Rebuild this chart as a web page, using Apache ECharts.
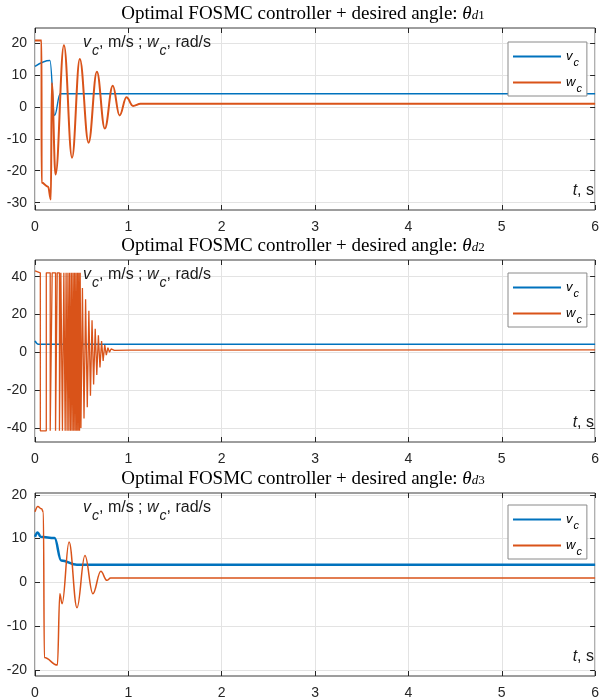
<!DOCTYPE html>
<html><head><meta charset="utf-8">
<script src="https://cdn.jsdelivr.net/npm/echarts@6/dist/echarts.min.js"></script>
<style>html,body{margin:0;padding:0;background:#fff}#c{width:602px;height:700px}</style>
</head><body><div id="c"></div>
<script>
// ---------- data ----------
const xTicks = [0, 1, 2, 3, 4, 5, 6];
const y1Ticks = [-30, -20, -10, 0, 10, 20];
const y2Ticks = [-40, -20, 0, 20, 40];
const y3Ticks = [-20, -10, 0, 10, 20];

// panel 1 (theta_d1)
const p1_vt = [0, 0.16, 0.21, 0.27, 6];
const p1_v  = [12.7, 14.5, -2.7, 4.1, 4.1];
const p1_wt = [0, 0.07, 0.0705, 0.14, 0.17, 0.18, 0.22, 0.31, 0.397, 0.48, 0.574, 0.663, 0.748, 0.833, 0.906, 0.98, 1.05, 1.13, 6];
const p1_w  = [20.8, 20.8, -23.7, -25, -29, 7.5, -21.2, 19.3, -15.9, 15, -11.2, 11, -6.8, 6.6, -2.7, 3, 0.3, 0.95, 0.95];

// panel 2 (theta_d2)
const p2_vt = [0, 0.035, 6];
const p2_v  = [6.1, 4.3, 4.3];
const p2_wt = [0,
  0.057,0.057, 0.121,0.121, 0.163,0.163, 0.184,0.184, 0.220,0.220, 0.238,0.238,
  0.262,0.262, 0.277,0.277, 0.294,0.294, 0.309,0.309, 0.323,0.323, 0.333,0.333,
  0.344,0.344, 0.353,0.353, 0.363,0.363, 0.371,0.371, 0.381,0.381, 0.389,0.389,
  0.398,0.398, 0.406,0.406, 0.415,0.415, 0.422,0.422, 0.431,0.431, 0.438,0.438,
  0.447,0.447, 0.454,0.454, 0.462,0.462, 0.469,0.469, 0.477,0.477, 0.484,0.484,
  0.492, 0.508, 0.525, 0.542, 0.560, 0.577, 0.594, 0.611, 0.628, 0.645, 0.662,
  0.679, 0.696, 0.713, 0.730, 0.747, 0.764, 0.781, 0.798, 0.815, 0.85, 1.0, 6];
const p2_w = [43,
  42,-41.5, -41.5,42, 42,-41.5, -41.5,42, 42,-41.5, -41.5,42,
  42,-41.5, -41.5,42, 42,-41.5, -41.5,42, 42,-41.5, -41.5,42,
  42,-41.5, -41.5,42, 42,-41.5, -41.5,42, 42,-41.5, -41.5,42,
  42,-41.5, -41.5,42, 42,-41.5, -41.5,42, 42,-41.5, -41.5,42,
  42,-41.5, -41.5,42, 42,-41.5, -41.5,42, 42,-41.5, -41.5,42,
  -40, 34, -35, 28, -29, 22, -23, 17, -17, 12.5, -12,
  9, -8, 6, -4.5, 4, -1.5, 2.5, 0, 1.8, 1.0, 1.2, 1.3];

// panel 3 (theta_d3)
const p3_vt = [0, 0.028, 0.06, 0.21, 0.28, 0.45, 6];
const p3_v  = [10.4, 11.4, 10.4, 10.1, 5.0, 4.0, 4.0];
const p3_wt = [0, 0.03, 0.07, 0.09, 0.1, 0.24, 0.266, 0.29, 0.365, 0.45, 0.535, 0.62, 0.705, 0.77, 0.81, 6];
const p3_w  = [16.1, 17.3, 16.8, 16, -17.2, -18.9, -2.6, -4.9, 9.2, -5.8, 6.1, -2.6, 2.5, 0.45, 1.0, 1.0];

const titles = ['1', '2', '3'];

// ---------- helpers ----------
const zip = (a, b) => a.slice(0, Math.min(a.length, b.length)).map((x, i) => [x, b[i]]);
const BLUE = '#0072BD', ORANGE = '#D95319';
const SANS = 'Liberation Sans', SERIF = 'Liberation Serif';
const AXC = '#262626';

const grids = [
  {left: 35, right: 3, top: 28, height: 182},
  {left: 35, right: 3, top: 260, height: 182},
  {left: 35, right: 3, top: 493, height: 183}
];
const yCfg = [
  {min: -32.3, max: 24.7, ticks: y1Ticks},
  {min: -47.4, max: 48.8, ticks: y2Ticks},
  {min: -21.4, max: 20.4, ticks: y3Ticks}
];

const xAxis = [], yAxis = [];
grids.forEach((g, i) => {
  xAxis.push({
    type: 'value', gridIndex: i, min: 0, max: 6, position: 'bottom',
    axisLine: {show: false, onZero: false},
    axisTick: {show: true, inside: true, length: 5, customValues: xTicks, lineStyle: {color: AXC}},
    axisLabel: {customValues: xTicks, color: AXC, fontFamily: SANS, fontSize: 14, margin: 10},
    splitLine: {show: true, lineStyle: {color: '#e3e3e3', width: 1}}
  });
  xAxis.push({
    type: 'value', gridIndex: i, min: 0, max: 6, position: 'top',
    axisLine: {show: false, onZero: false},
    axisTick: {show: true, inside: true, length: 5, customValues: xTicks, lineStyle: {color: AXC}},
    axisLabel: {show: false}, splitLine: {show: false}
  });
  yAxis.push({
    type: 'value', gridIndex: i, min: yCfg[i].min, max: yCfg[i].max, position: 'left',
    axisLine: {show: false, onZero: false},
    axisTick: {show: true, inside: true, length: 5, customValues: yCfg[i].ticks, lineStyle: {color: AXC}},
    axisLabel: {customValues: yCfg[i].ticks, color: AXC, fontFamily: SANS, fontSize: 14, margin: 8},
    splitLine: {show: true, lineStyle: {color: '#e3e3e3', width: 1}}
  });
  yAxis.push({
    type: 'value', gridIndex: i, min: yCfg[i].min, max: yCfg[i].max, position: 'right',
    axisLine: {show: false, onZero: false},
    axisTick: {show: true, inside: true, length: 5, customValues: yCfg[i].ticks, lineStyle: {color: AXC}},
    axisLabel: {show: false}, splitLine: {show: false}
  });
});

function lineSeries(name, gi, data, color, width, smooth) {
  const s = {
    name, type: 'line', xAxisIndex: gi * 2, yAxisIndex: gi * 2, data,
    symbol: 'none', lineStyle: {color, width}, itemStyle: {color},
    animation: false, clip: true
  };
  if (smooth) { s.smooth = 0.4; s.smoothMonotone = 'x'; }
  return s;
}

const series = [
  lineSeries('v1', 0, zip(p1_vt, p1_v), BLUE, 1.4, true),
  lineSeries('w1', 0, zip(p1_wt, p1_w), ORANGE, 2, true),
  lineSeries('v2', 1, zip(p2_vt, p2_v), BLUE, 1.6, true),
  lineSeries('w2', 1, zip(p2_wt, p2_w), ORANGE, 1.3, false),
  lineSeries('v3', 2, zip(p3_vt, p3_v), BLUE, 2.5, true),
  lineSeries('w3', 2, zip(p3_wt, p3_w), ORANGE, 1.5, true)
];

const legendTops = [42, 273, 505];
const legend = legendTops.map((top, i) => ({
  data: ['v' + (i + 1), 'w' + (i + 1)],
  left: 508, top, orient: 'vertical',
  backgroundColor: '#fff', borderColor: '#8a8a8a', borderWidth: 1,
  padding: [8, 5, 2, 5], itemGap: 8, itemWidth: 48, itemHeight: 2,
  icon: 'rect',
  selectedMode: false, z: 10,
  formatter: n => '{i|' + n[0] + '}{s|c}',
  textStyle: {
    fontFamily: SANS, color: '#000', fontSize: 13,
    rich: {
      i: {fontFamily: SANS, fontStyle: 'italic', fontSize: 13, color: '#000'},
      s: {fontFamily: SANS, fontStyle: 'italic', fontSize: 11, color: '#000', padding: [12, 0, 0, 1]}
    }
  }
}));

const titleTops = [14, 246, 479];
const annTops = [43, 275, 508];
const tsTops = [191, 423, 657];
const graphic = [];
titleTops.forEach((y, i) => {
  graphic.push({
    type: 'text', z: 100, style: {
      x: 303, y, align: 'center', verticalAlign: 'middle',
      text: '{a|Optimal FOSMC controller + desired angle: }{th|θ}{d|d}{n|' + titles[i] + '}',
      rich: {
        a: {fontFamily: SERIF, fontSize: 19, fill: '#000'},
        th: {fontFamily: SERIF, fontSize: 19, fontStyle: 'italic', fill: '#000'},
        d: {fontFamily: SERIF, fontSize: 13, fontStyle: 'italic', fill: '#000', padding: [4, 0, 0, 0]},
        n: {fontFamily: SERIF, fontSize: 13, fill: '#000', padding: [4, 0, 0, 0]}
      }
    }
  });
});
annTops.forEach(y => {
  graphic.push({
    type: 'text', z: 100, style: {
      x: 83, y, align: 'left', verticalAlign: 'middle',
      text: '{i|v}{s|c}{a|, m/s ; }{i|w}{s|c}{a|, rad/s}',
      rich: {
        a: {fontFamily: SANS, fontSize: 16, fill: '#1a1a1a'},
        i: {fontFamily: SANS, fontSize: 16, fontStyle: 'italic', fill: '#1a1a1a'},
        s: {fontFamily: SANS, fontSize: 14, fontStyle: 'italic', fill: '#1a1a1a', padding: [17, 0, 0, 1]}
      }
    }
  });
});
tsTops.forEach(y => {
  graphic.push({
    type: 'text', z: 100, style: {
      x: 594, y, align: 'right', verticalAlign: 'middle',
      text: '{i|t}{a|, s}',
      rich: {
        a: {fontFamily: SANS, fontSize: 16, fill: '#1a1a1a'},
        i: {fontFamily: SANS, fontSize: 16, fontStyle: 'italic', fill: '#1a1a1a'}
      }
    }
  });
});

const chart = echarts.init(document.getElementById('c'), null, {renderer: 'canvas'});
chart.setOption({
  animation: false,
  backgroundColor: '#fff',
  grid: grids.map(g => Object.assign({show: true, borderColor: '#3c3c3c', borderWidth: 1, backgroundColor: 'transparent', containLabel: false}, g)),
  xAxis, yAxis, series, legend, graphic
});
</script></body></html>
